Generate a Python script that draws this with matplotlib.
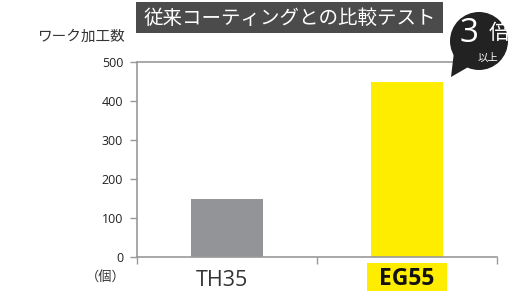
import matplotlib
matplotlib.use("Agg")
import matplotlib.pyplot as plt
from matplotlib.patches import Ellipse, Polygon, Rectangle

plt.rcParams['font.family'] = ['Noto Sans CJK JP', 'DejaVu Sans']

categories = ["TH35", "EG55"]
values = [150, 450]
bar_colors = ["#929497", "#FFED00"]
yticks = [0, 100, 200, 300, 400, 500]
title = "従来コーティングとの比較テスト"
ylabel = "ワーク加工数"
unit = "（個）"

W, H = 509, 291
def fx(px):
    return px / W
def fy(py):
    return 1 - py / H

fig = plt.figure(figsize=(5.09, 2.91), dpi=100)
ax = fig.add_axes([fx(137), fy(257), 360/W, 195/H])
x = list(range(len(categories)))
ax.bar(x, values, width=0.4, color=bar_colors, zorder=2)
ax.set_xlim(-0.5, 1.5)
ax.set_ylim(0, 500)
ax.set_yticks(yticks)
ax.set_yticklabels([str(v) for v in yticks], fontsize=9, color="#222222",
                   family=['Open Sans', 'DejaVu Sans'])
ax.tick_params(axis='y', length=5, width=1, color="#999999", pad=5, direction='out')
ax.set_xticks(x)
ax.set_xticklabels([])
ax.set_xticks([-0.5, 0.5, 1.5], minor=True)
ax.tick_params(axis='x', which='major', length=0)
ax.tick_params(axis='x', which='minor', length=5, width=1, color="#999999", direction='out')
ax.spines["right"].set_visible(False)
for s in ["left", "bottom", "top"]:
    ax.spines[s].set_color("#999999")
    ax.spines[s].set_linewidth(1.2)

# x labels
fig.text(fx(222), fy(280), categories[0], ha='center', va='center',
         fontsize=15.5, color="#333333", family=['Open Sans', 'DejaVu Sans'])
fig.patches.append(Rectangle((fx(367), fy(293)), 80/W, 30/H, transform=fig.transFigure,
                             fc=bar_colors[1], ec='none'))
fig.text(fx(407), fy(279), categories[1], ha='center', va='center',
         fontsize=16.5, color="#111111", fontweight='bold', family=['Open Sans', 'DejaVu Sans'])

# title box
fig.patches.append(Rectangle((fx(136), fy(33)), 307/W, 31/H, transform=fig.transFigure,
                             fc="#4b4b4b", ec='none'))
fig.text(fx(290), fy(18), title, ha='center', va='center', color='white', fontsize=14)
fig.text(fx(125), fy(37), ylabel, ha='right', va='center', color="#333333", fontsize=10.5)
fig.text(fx(126), fy(278), unit, ha='right', va='center', color="#333333", fontsize=9.5)

# bubble
cx, cy, r = 479, 41, 29
fig.patches.append(Ellipse((fx(cx), fy(cy)), 2*r/W, 2*r/H, transform=fig.transFigure,
                           fc="#222222", ec='none'))
fig.patches.append(Polygon([(fx(454), fy(52)), (fx(470), fy(66)), (fx(451), fy(77))],
                           closed=True, transform=fig.transFigure, fc="#222222", ec='none'))
fig.text(fx(469), fy(33), "3", ha='center', va='center', color='white', fontsize=24,
         family=['Open Sans', 'DejaVu Sans'])
fig.text(fx(499), fy(33), "倍", ha='center', va='center', color='white', fontsize=15)
fig.text(fx(488), fy(58), "以上", ha='center', va='center', color='white', fontsize=7.5)

fig.savefig("out.png", dpi=100)
